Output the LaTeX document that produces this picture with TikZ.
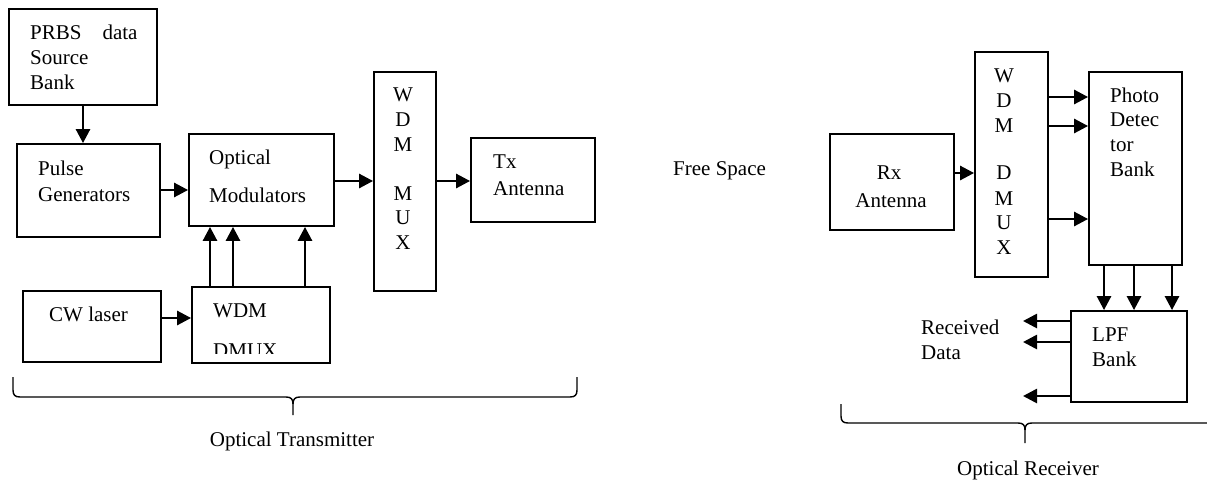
\documentclass[tikz,border=0pt]{standalone}
\usepackage{fontspec}
\setmainfont{Liberation Serif}
\usetikzlibrary{arrows.meta,fit}
\begin{document}
\begin{tikzpicture}[x=1pt,y=-1pt,
  box/.style={draw,line width=1.8pt,inner sep=0pt},
  arr/.style={line width=2.7pt,-{Triangle[length=14pt,width=14pt]}},
  txt/.style={anchor=base west,inner sep=0pt,font=\fontsize{21}{25}\selectfont},
  ctxt/.style={anchor=base,inner sep=0pt,font=\fontsize{21}{25}\selectfont},
  brace/.style={line width=1.4pt}]
\useasboundingbox (0,0) rectangle (1207,482);
% boxes
\node[box,fit={(9,9)(157,105)}] (prbs) {};
\node[box,fit={(17,144)(160,237)}] (pulse) {};
\node[box,fit={(189,134)(334,226)}] (optmod) {};
\node[box,fit={(374,72)(436,291)}] (mux) {};
\node[box,fit={(471,138)(595,222)}] (tx) {};
\node[box,fit={(23,291)(161,362)}] (cw) {};
\node[box,fit={(192,287)(330,363)}] (dmuxt) {};
\node[box,fit={(830,134)(954,230)}] (rx) {};
\node[box,fit={(975,52)(1048,277)}] (dmuxr) {};
\node[box,fit={(1089,72)(1182,265)}] (photo) {};
\node[box,fit={(1071,311)(1187,402)}] (lpf) {};
% texts
\node[txt] (tprbs1) at (30,39) {PRBS\hspace{21pt}data};
\node[txt] (tprbs2) at (30,64) {Source};
\node[txt] (tprbs3) at (30,89) {Bank};
\node[txt] (tpulse1) at (38,175) {Pulse};
\node[txt] (tpulse2) at (38,201) {Generators};
\node[txt] (topt1) at (209,164) {Optical};
\node[txt] (topt2) at (209,202) {Modulators};
\node[ctxt] (tm1) at (403,101) {W};
\node[ctxt] (tm2) at (403,126) {D};
\node[ctxt] (tm3) at (403,151) {M};
\node[ctxt] (tm4) at (403,200) {M};
\node[ctxt] (tm5) at (403,224) {U};
\node[ctxt] (tm6) at (403,249) {X};
\node[txt] (ttx1) at (493,168) {Tx};
\node[txt] (ttx2) at (493,195) {Antenna};
\node[txt] (tcw) at (49,321) {CW laser};
\node[txt] (tdm1) at (213,317) {WDM};
\begin{scope}
\clip (192,287) rectangle (330,353);
\node[txt] (tdm2) at (213,357) {DMUX};
\end{scope}
\node[ctxt] (ttrans) at (292,446) {Optical Transmitter};
\node[txt] (tfree) at (673,175) {Free Space};
\node[ctxt] (trx1) at (889,179) {Rx};
\node[ctxt] (trx2) at (891,207) {Antenna};
\node[ctxt] (tr1) at (1004,82) {W};
\node[ctxt] (tr2) at (1004,107) {D};
\node[ctxt] (tr3) at (1004,132) {M};
\node[ctxt] (tr4) at (1004,179) {D};
\node[ctxt] (tr5) at (1004,205) {M};
\node[ctxt] (tr6) at (1004,229) {U};
\node[ctxt] (tr7) at (1004,254) {X};
\node[txt] (tph1) at (1110,102) {Photo};
\node[txt] (tph2) at (1110,126) {Detec};
\node[txt] (tph3) at (1110,151) {tor};
\node[txt] (tph4) at (1110,176) {Bank};
\node[txt] (tlpf1) at (1092,341) {LPF};
\node[txt] (tlpf2) at (1092,366) {Bank};
\node[txt] (trec1) at (921,334) {Received};
\node[txt] (trec2) at (921,359) {Data};
\node[ctxt] (trecv) at (1028,475) {Optical Receiver};
% arrows
\draw[arr] (prbs.south -| 83,0) -- (pulse.north -| 83,0);
\draw[arr] (pulse.east |- 0,190) -- (optmod.west |- 0,190);
\draw[arr] (optmod.east |- 0,181) -- (mux.west |- 0,181);
\draw[arr] (mux.east |- 0,181) -- (tx.west |- 0,181);
\draw[arr] (cw.east |- 0,318) -- (dmuxt.west |- 0,318);
\foreach \x in {210,233,305}
  \draw[arr] (dmuxt.north -| \x,0) -- (optmod.south -| \x,0);
\draw[arr] (rx.east |- 0,173) -- (dmuxr.west |- 0,173);
\foreach \y in {97,126,219}
  \draw[arr] (dmuxr.east |- 0,\y) -- (photo.west |- 0,\y);
\foreach \x in {1104,1134,1172}
  \draw[arr] (photo.south -| \x,0) -- (lpf.north -| \x,0);
\coordinate (o1) at (1023,321);
\coordinate (o2) at (1023,342);
\coordinate (o3) at (1023,396);
\draw[arr] (lpf.west |- o1) -- (o1);
\draw[arr] (lpf.west |- o2) -- (o2);
\draw[arr] (lpf.west |- o3) -- (o3);
% braces
\coordinate (bl1) at (13,377);
\coordinate (bt1) at (293,415);
\coordinate (br1) at (577,377);
\draw[brace] (bl1) -- (13,390) .. controls (13,395) and (15,397) .. (20,397)
  -- (286,397) .. controls (291,397) and (293,399) .. (293,404) -- (bt1);
\draw[brace] (br1) -- (577,390) .. controls (577,395) and (575,397) .. (570,397)
  -- (300,397) .. controls (295,397) and (293,399) .. (293,404);
\coordinate (bl2) at (841,404);
\coordinate (bt2) at (1025,443);
\draw[brace] (bl2) -- (841,416) .. controls (841,421) and (843,423) .. (848,423)
  -- (1018,423) .. controls (1023,423) and (1025,425) .. (1025,430) -- (bt2);
\draw[brace] (1207,423) -- (1032,423) .. controls (1027,423) and (1025,425) .. (1025,430);
\end{tikzpicture}
\end{document}
